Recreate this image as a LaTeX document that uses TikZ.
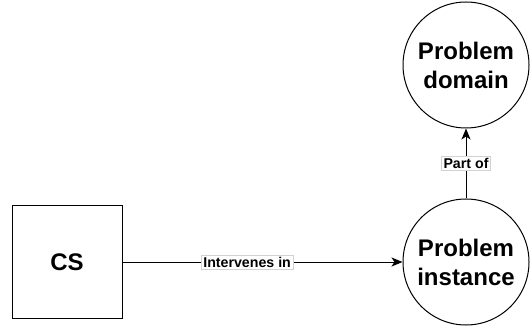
\documentclass[tikz,border=0pt]{standalone}
\usepackage{fontspec}
\setmainfont{Liberation Sans}
\usetikzlibrary{arrows.meta}
\begin{document}
\begin{tikzpicture}[x=1pt,y=1pt,
  every node/.style={font=\bfseries},
  entity/.style={draw, line width=1pt, fill=white, font=\fontsize{24}{29}\selectfont\bfseries, align=center},
  conn/.style={draw, line width=1pt, -{Stealth[length=11pt,width=9pt,inset=3pt]}},
  rel/.style={fill=white, draw=gray!35, line width=0.5pt, inner sep=2pt,
    font=\fontsize{14.2}{16}\selectfont\bfseries}]
  \useasboundingbox (0,0) rectangle (532,332);
  % nodes
  \node[entity, rectangle, minimum width=110pt, minimum height=112pt] (cs) at (67,70) {CS};
  \node[entity, circle, minimum size=126pt, inner sep=0pt] (inst) at (466,70) {Problem\\instance};
  \node[entity, circle, minimum size=126pt, inner sep=0pt] (dom) at (466,267) {Problem\\domain};
  % connectors
  \draw[conn] (cs) -- node[rel, pos=0.445] {Intervenes in} (inst);
  \draw[conn] (inst) -- node[rel, pos=0.5] {Part of} (dom);
\end{tikzpicture}
\end{document}
